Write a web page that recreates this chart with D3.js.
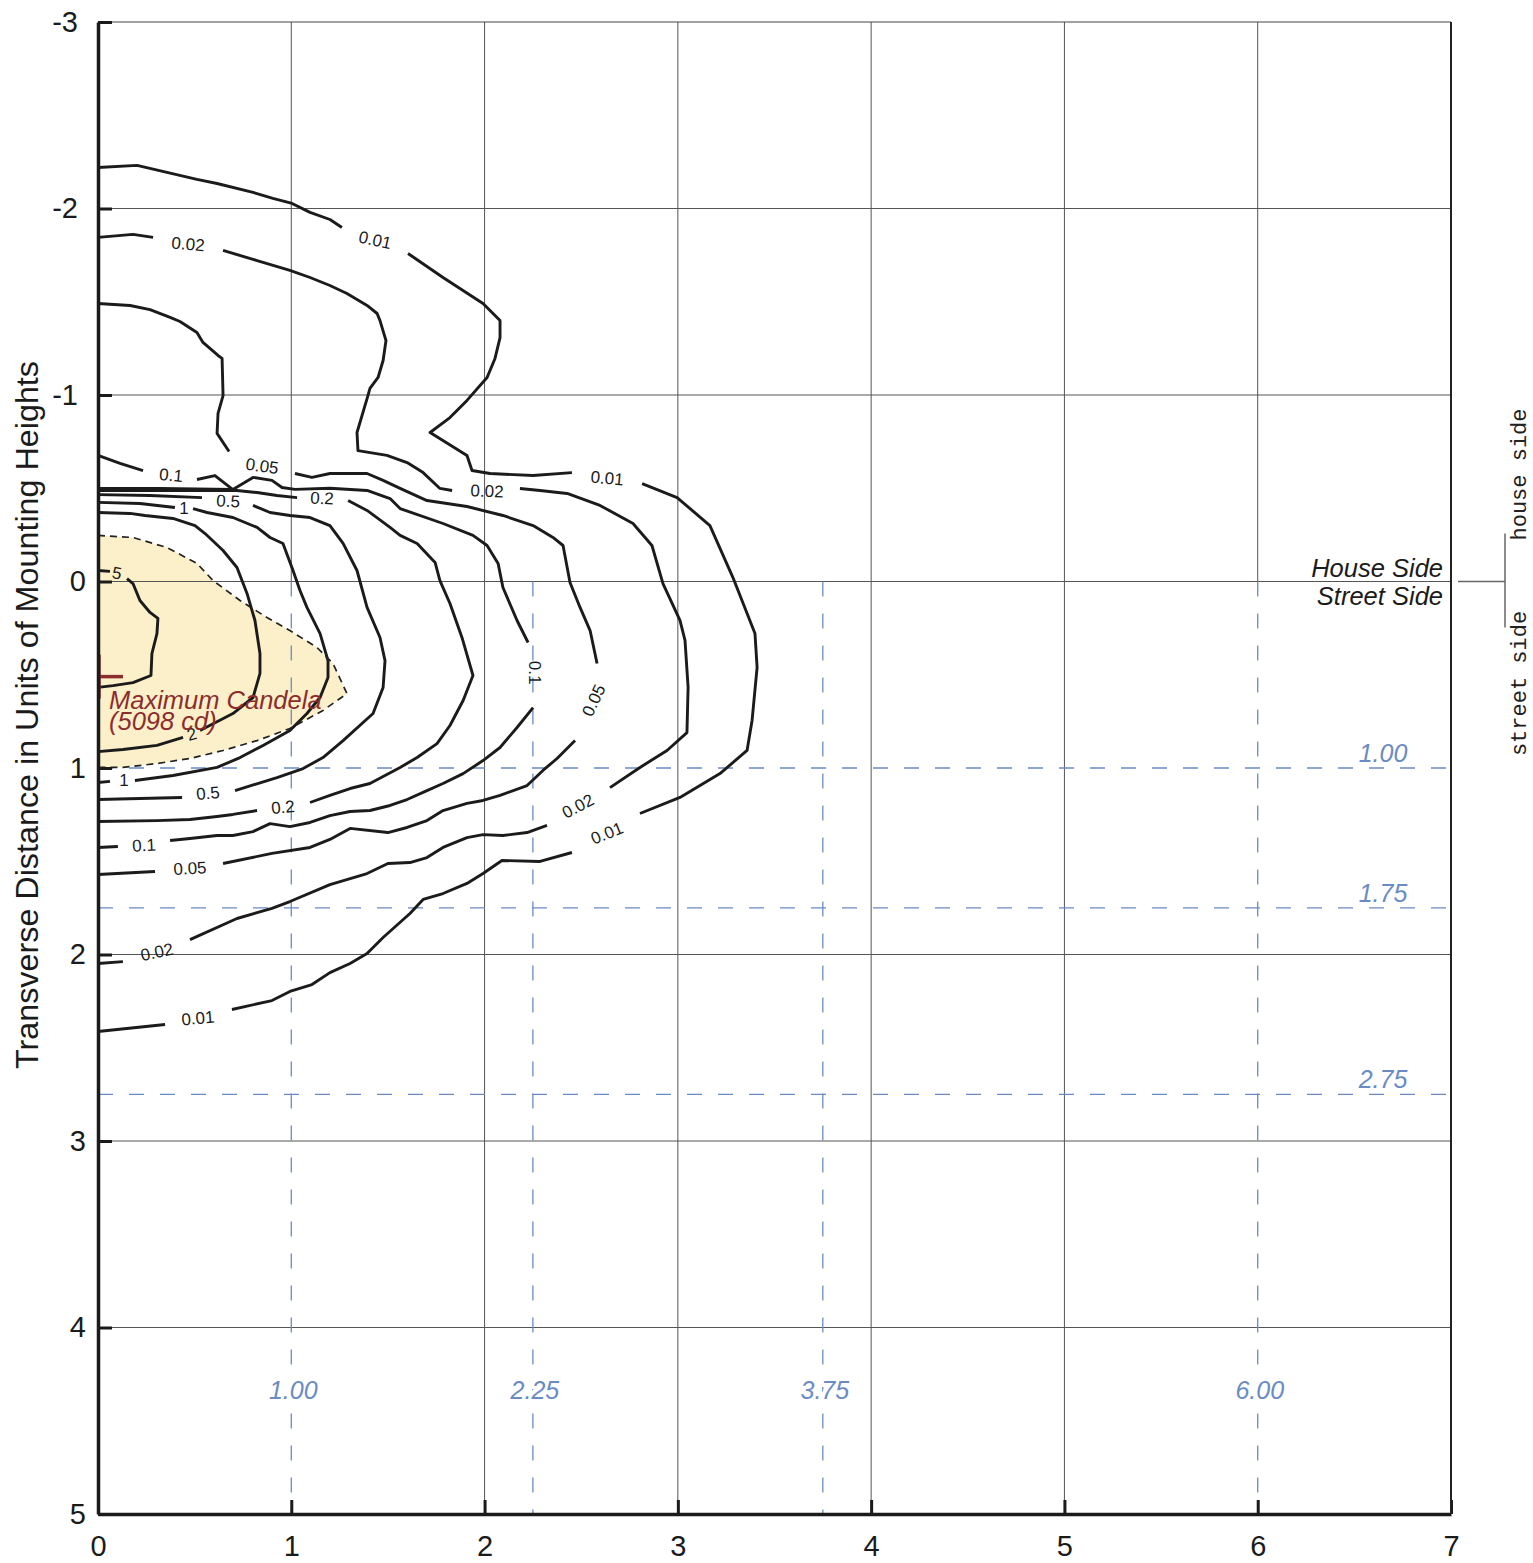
<!DOCTYPE html>
<html><head><meta charset="utf-8">
<script src="https://cdn.jsdelivr.net/npm/d3@7/dist/d3.min.js"></script>
<style>body{margin:0;background:#fff}</style>
</head><body>
<svg id="chart" width="1533" height="1563"></svg>
<script>
// ---------- data ----------
const xTicks = [0,1,2,3,4,5,6,7];
const yTicks = [-3,-2,-1,0,1,2,3,4,5];
const gridX = [1,2,3,4,5,6];
const gridY = [-2,-1,0,1,2,3,4];
const refX = [1.00, 2.25, 3.75, 6.00];   // longitudinal classification lines
const refY = [1.00, 1.75, 2.75];         // transverse classification lines
const yTitle = "Transverse Distance in Units of Mounting Heights";
const maxCandela = {x: 0, y: 0.51, value: 5098};

// isocandela contours (fraction of max), each as list of drawn segments [x, y]
const c001 = [
 [[0,-2.220],[0.202,-2.231],[0.512,-2.156],[0.616,-2.134],[0.802,-2.086],[0.905,-2.054],[1.004,-2.027],[1.097,-1.979],[1.200,-1.941],[1.262,-1.898]],
 [[1.604,-1.759],[1.785,-1.630],[1.992,-1.491],[2.080,-1.399],[2.080,-1.308],[2.054,-1.196],[2.013,-1.094],[1.909,-0.971],[1.821,-0.879],[1.718,-0.799],[1.909,-0.676],[1.935,-0.595],[2.028,-0.579],[2.251,-0.568],[2.452,-0.584]],
 [[2.815,-0.525],[2.996,-0.450],[3.166,-0.300],[3.285,-0.021],[3.399,0.279],[3.410,0.461],[3.384,0.745],[3.358,0.906],[3.218,1.030],[3.011,1.158],[2.804,1.244]],
 [[2.452,1.453],[2.287,1.501],[2.090,1.496],[1.992,1.566],[1.909,1.619],[1.785,1.673],[1.682,1.705],[1.614,1.780],[1.475,1.909],[1.392,1.995],[1.304,2.048],[1.200,2.097],[1.107,2.161],[0.993,2.198],[0.900,2.247],[0.693,2.295]],
 [[0.347,2.375],[0,2.413]]
];
const c002 = [
 [[0,-1.845],[0.181,-1.861],[0.285,-1.845]],
 [[0.647,-1.775],[0.823,-1.721],[0.993,-1.668],[1.097,-1.630],[1.200,-1.587],[1.288,-1.544],[1.392,-1.480],[1.444,-1.437],[1.459,-1.399],[1.490,-1.292],[1.475,-1.185],[1.449,-1.094],[1.407,-1.035],[1.392,-0.981],[1.340,-0.799],[1.345,-0.702],[1.495,-0.676],[1.599,-0.638],[1.682,-0.584],[1.769,-0.499],[1.832,-0.488]],
 [[2.183,-0.499],[2.287,-0.488],[2.427,-0.472],[2.597,-0.408],[2.768,-0.311],[2.866,-0.193],[2.923,0.011],[3.011,0.209],[3.037,0.316],[3.053,0.568],[3.047,0.810],[2.944,0.906],[2.804,0.997],[2.649,1.105]],
 [[2.323,1.308],[2.220,1.346],[2.095,1.362],[1.992,1.357],[1.909,1.373],[1.785,1.426],[1.702,1.480],[1.614,1.507],[1.500,1.512],[1.392,1.566],[1.200,1.625],[0.993,1.716],[0.900,1.753],[0.719,1.807],[0.476,1.920]],
 [[0.129,2.038],[0,2.048]]
];
const c005 = [
 [[0,-1.491],[0.166,-1.480],[0.269,-1.458],[0.373,-1.416],[0.424,-1.394],[0.512,-1.335],[0.543,-1.282],[0.621,-1.212],[0.642,-1.196],[0.647,-0.997],[0.621,-0.901],[0.616,-0.794],[0.678,-0.697]],
 [[1.019,-0.579],[1.107,-0.558],[1.200,-0.579],[1.392,-0.579],[1.475,-0.542],[1.563,-0.499],[1.702,-0.434],[1.909,-0.402],[2.095,-0.354],[2.251,-0.300],[2.354,-0.236],[2.406,-0.193],[2.442,0.005],[2.494,0.139],[2.546,0.263],[2.582,0.440]],
 [[2.468,0.853],[2.375,0.949],[2.302,1.013],[2.220,1.094],[2.080,1.147],[1.992,1.174],[1.909,1.190],[1.785,1.228],[1.702,1.282],[1.599,1.319],[1.500,1.346],[1.304,1.324],[1.200,1.383],[1.097,1.426],[0.900,1.458],[0.647,1.512]],
 [[0.295,1.555],[0,1.571]]
];
const c01 = [
 [[0,-0.676],[0.114,-0.633],[0.233,-0.595]],
 [[0.512,-0.547],[0.605,-0.568],[0.698,-0.493],[0.802,-0.558],[0.900,-0.542],[0.952,-0.504],[1.019,-0.494],[1.200,-0.500],[1.392,-0.488],[1.511,-0.445],[1.563,-0.391],[1.785,-0.311],[1.940,-0.247],[2.013,-0.193],[2.070,-0.097],[2.095,0.032],[2.168,0.209],[2.225,0.327]],
 [[2.251,0.676],[2.168,0.783],[2.080,0.890],[1.992,0.960],[1.889,1.030],[1.785,1.083],[1.702,1.121],[1.599,1.169],[1.511,1.201],[1.407,1.228],[1.304,1.233],[1.200,1.255],[1.097,1.292],[0.993,1.314],[0.890,1.298],[0.802,1.341],[0.698,1.362],[0.616,1.362],[0.476,1.378],[0.373,1.389]],
 [[0.103,1.421],[0,1.426]],
 [[0,-0.499],[0.321,-0.499],[0.698,-0.493]]
];
const c02 = [
 [[0,-0.488],[0.269,-0.488],[0.719,-0.488],[0.823,-0.477],[0.926,-0.461],[1.030,-0.450]],
 [[1.294,-0.434],[1.392,-0.381],[1.511,-0.290],[1.563,-0.247],[1.651,-0.204],[1.744,-0.102],[1.769,-0.005],[1.821,0.118],[1.883,0.300],[1.940,0.504],[1.889,0.638],[1.821,0.772],[1.754,0.869],[1.651,0.944],[1.563,0.997],[1.407,1.083],[1.304,1.110],[1.200,1.147],[1.097,1.185]],
 [[0.823,1.228],[0.698,1.249],[0.616,1.260],[0.476,1.276],[0.305,1.282],[0,1.287]]
];
const c05 = [
 [[0,-0.466],[0.269,-0.461],[0.538,-0.450]],
 [[0.802,-0.408],[0.890,-0.370],[0.993,-0.354],[1.097,-0.343],[1.200,-0.300],[1.268,-0.204],[1.340,-0.059],[1.392,0.139],[1.459,0.300],[1.485,0.424],[1.475,0.568],[1.423,0.708],[1.268,0.853],[1.164,0.944],[1.061,1.003],[0.926,1.051],[0.709,1.121]],
 [[0.435,1.158],[0,1.169]]
];
const c1 = [
 [[0,-0.424],[0.217,-0.418],[0.398,-0.397]],
 [[0.492,-0.391],[0.564,-0.370],[0.698,-0.343],[0.823,-0.290],[0.890,-0.236],[0.957,-0.204],[1.009,-0.059],[1.045,0.048],[1.081,0.139],[1.149,0.279],[1.190,0.424],[1.190,0.515],[1.149,0.622],[1.081,0.708],[0.993,0.799],[0.854,0.879],[0.735,0.944],[0.616,0.997],[0.388,1.040],[0.191,1.067]],
 [[0.062,1.072],[0,1.078]]
];
const c2 = [
 [[0,-0.370],[0.166,-0.365],[0.243,-0.354],[0.388,-0.338],[0.502,-0.300],[0.554,-0.257],[0.647,-0.166],[0.719,-0.075],[0.771,0.064],[0.812,0.209],[0.838,0.386],[0.838,0.493],[0.802,0.622],[0.698,0.708],[0.528,0.799]],
 [[0.440,0.836],[0.305,0.879],[0.129,0.901],[0,0.912]]
];
const c5 = [
 [[0,-0.059],[0.062,-0.054]],
 [[0.150,-0.016],[0.181,0.011],[0.217,0.102],[0.269,0.166],[0.310,0.198],[0.305,0.279],[0.279,0.386],[0.274,0.504],[0.181,0.542],[0.078,0.558],[0,0.568]]
];
// half-max region (dashed, shaded)
const halfMaxRegion = [[0,-0.247],[0.181,-0.236],[0.357,-0.182],[0.512,-0.097],[0.595,-0.005],[0.735,0.102],[0.874,0.193],[0.993,0.263],[1.133,0.354],[1.216,0.440],[1.288,0.601],[1.237,0.638],[1.164,0.692],[0.993,0.788],[0.823,0.853],[0.647,0.906],[0.476,0.949],[0.305,0.976],[0.129,0.997],[0,0.997]];

// contour labels: text, x, y, angle
const contourLabels = [
 ["0.01",1.433,-1.829,12],["0.02",0.466,-1.807,5],["0.05",0.849,-0.617,8],["0.1",0.378,-0.568,5],
 ["1",0.445,-0.391,0],["0.5",0.673,-0.429,3],["0.2",1.159,-0.445,3],["0.02",2.013,-0.483,2],
 ["0.01",2.634,-0.552,5],["5",0.098,-0.043,10],["2",0.486,0.820,-15],["0.1",2.256,0.488,90],
 ["0.05",2.566,0.638,-65],["0.02",2.484,1.206,-28],["0.01",2.634,1.351,-22],["1",0.135,1.067,0],
 ["0.5",0.569,1.137,-5],["0.2",0.957,1.212,-5],["0.1",0.238,1.416,-3],["0.05",0.476,1.539,-3],
 ["0.02",0.305,1.989,-12],["0.01",0.517,2.343,-5]
];

const contours = [c001,c002,c005,c01,c02,c05,c1,c2,c5];

// ---------- drawing ----------
const W = 1533, H = 1563;
const svg = d3.select("#chart");
const x = d3.scaleLinear().domain([0,7]).range([98,1451]);
const y = d3.scaleLinear().domain([-3,5]).range([22,1514]);
const line = d3.line().x(d => x(d[0])).y(d => y(d[1]));
const FONT = "'Liberation Sans', Arial, Helvetica, sans-serif";
const BLUE = "#6a8bc3";
const RED = "#8b2d2d";

svg.append("rect").attr("width", W).attr("height", H).attr("fill", "#fff");

// shaded region
svg.append("path").attr("d", line(halfMaxRegion) + "Z")
  .attr("fill", "#fbf0c9").attr("stroke", "none");

// grid (replaced by the blue classification lines where they coincide)
const grid = svg.append("g").attr("stroke", "#555").attr("stroke-width", 1);
grid.selectAll(".gx").data(gridX).join("line")
  .attr("x1", d => x(d)).attr("x2", d => x(d)).attr("y1", y(-3))
  .attr("y2", d => refX.includes(d) ? y(0) : y(5));
grid.selectAll(".gy").data(gridY.filter(d => !refY.includes(d))).join("line")
  .attr("x1", x(0)).attr("x2", x(7)).attr("y1", d => y(d)).attr("y2", d => y(d));
// top border
svg.append("line").attr("x1", x(0)).attr("x2", x(7)).attr("y1", y(-3)).attr("y2", y(-3))
  .attr("stroke", "#444").attr("stroke-width", 1);

// blue reference dashed lines
const ref = svg.append("g").attr("stroke", BLUE).attr("stroke-width", 1.3).attr("fill", "none");
ref.selectAll(".ry").data(refY).join("line")
  .attr("x1", x(0)).attr("x2", x(7)).attr("y1", d => y(d)).attr("y2", d => y(d))
  .attr("stroke-dasharray", "15,16");
ref.selectAll(".rx").data(refX).join("line")
  .attr("x1", d => x(d)).attr("x2", d => x(d)).attr("y1", y(0)).attr("y2", y(5))
  .attr("stroke-dasharray", "15,17");

// contours
const cg = svg.append("g").attr("fill", "none").attr("stroke", "#1b1b1b")
  .attr("stroke-width", 2.9).attr("stroke-linejoin", "round").attr("stroke-linecap", "butt");
contours.forEach(level => {
  level.forEach(seg => {
    cg.append("path").attr("d", line(seg));
  });
});

// dashed boundary of shaded region (axis edge left open)
svg.append("path").attr("d", line(halfMaxRegion))
  .attr("fill", "none").attr("stroke", "#222").attr("stroke-width", 1.7)
  .attr("stroke-dasharray", "7,5");

// contour labels
svg.append("g").selectAll("text").data(contourLabels).join("text")
  .attr("transform", d => `translate(${x(d[1])},${y(d[2])}) rotate(${d[3]})`)
  .attr("text-anchor", "middle").attr("dominant-baseline", "central")
  .attr("font-family", FONT).attr("font-size", 17).attr("fill", "#1b1b1b")
  .text(d => d[0]);

// blue reference labels
const bl = svg.append("g").attr("font-family", FONT).attr("font-style", "italic")
  .attr("font-size", 25).attr("fill", BLUE);
bl.selectAll(".ly").data(refY).join("text")
  .attr("x", x(6.648)).attr("y", d => y(d) - 6).attr("text-anchor", "middle")
  .text(d => d3.format(".2f")(d));
bl.selectAll(".lx").data(refX).join("text")
  .attr("x", d => x(d) + 2).attr("y", y(4.385)).attr("text-anchor", "middle")
  .attr("stroke", "#fff").attr("stroke-width", 8).attr("paint-order", "stroke")
  .text(d => d3.format(".2f")(d));

// maximum candela marker
const mc = svg.append("g").attr("stroke", RED).attr("stroke-width", 3.5);
mc.append("line").attr("x1", x(maxCandela.x) + 1).attr("x2", x(maxCandela.x) + 1)
  .attr("y1", y(maxCandela.y) - 22).attr("y2", y(maxCandela.y) + 22);
mc.append("line").attr("x1", x(maxCandela.x)).attr("x2", x(maxCandela.x) + 25)
  .attr("y1", y(maxCandela.y)).attr("y2", y(maxCandela.y));
const mt = svg.append("g").attr("font-family", FONT).attr("font-style", "italic")
  .attr("font-size", 25.5).attr("fill", RED);
mt.append("text").attr("x", x(maxCandela.x) + 11).attr("y", y(maxCandela.y) + 32).text("Maximum Candela");
mt.append("text").attr("x", x(maxCandela.x) + 11).attr("y", y(maxCandela.y) + 53).text(`(${maxCandela.value} cd)`);

// axes
const yAxis = d3.axisLeft(y).tickValues(yTicks).tickSize(-14).tickSizeOuter(0).tickPadding(12)
  .tickFormat(d3.format("d"));
const gy = svg.append("g").attr("transform", `translate(${x(0)},0)`).call(yAxis);
gy.select(".domain").attr("stroke", "#1b1b1b").attr("stroke-width", 3.5);
gy.selectAll(".tick line").attr("stroke", "#1b1b1b").attr("stroke-width", 3);
gy.selectAll(".tick text").attr("font-family", FONT).attr("font-size", 29).attr("fill", "#1b1b1b")
  .attr("x", d => d < 0 ? -20 : -12).text(d => d < 0 ? "-" + Math.abs(d) : d);

const xAxis = d3.axisBottom(x).tickValues(xTicks).tickSize(-14).tickSizeOuter(0).tickPadding(21)
  .tickFormat(d3.format("d"));
const gx = svg.append("g").attr("transform", `translate(0,${y(5)})`).call(xAxis);
gx.select(".domain").attr("stroke", "#1b1b1b").attr("stroke-width", 3.5);
gx.selectAll(".tick line").attr("stroke", "#1b1b1b").attr("stroke-width", 3);
gx.selectAll(".tick text").attr("font-family", FONT).attr("font-size", 29).attr("fill", "#1b1b1b");

// right border
svg.append("line").attr("x1", x(7)).attr("x2", x(7)).attr("y1", y(-3)).attr("y2", y(5))
  .attr("stroke", "#222").attr("stroke-width", 2);

// y title
svg.append("text").attr("transform", `translate(38,${(y(-3)+y(5))/2 - 53}) rotate(-90)`)
  .attr("text-anchor", "middle").attr("font-family", FONT).attr("font-size", 31)
  .attr("fill", "#1b1b1b").attr("textLength", 708).attr("lengthAdjust", "spacingAndGlyphs")
  .text(yTitle);

// house / street side annotations
const hs = svg.append("g").attr("font-family", FONT).attr("font-style", "italic")
  .attr("font-size", 25.5).attr("fill", "#1b1b1b").attr("text-anchor", "end");
hs.append("text").attr("x", x(7) - 8).attr("y", y(0) - 5).text("House Side");
hs.append("text").attr("x", x(7) - 8).attr("y", y(0) + 23).text("Street Side");

const br = svg.append("g").attr("stroke", "#666").attr("stroke-width", 1.5);
br.append("line").attr("x1", x(7) + 7).attr("x2", x(7) + 54).attr("y1", y(0)).attr("y2", y(0));
br.append("line").attr("x1", x(7) + 54).attr("x2", x(7) + 54).attr("y1", y(0) - 48).attr("y2", y(0) + 46);
const ms = svg.append("g").attr("font-family", "'Liberation Mono', 'DejaVu Sans Mono', monospace")
  .attr("font-size", 22).attr("fill", "#222").attr("text-anchor", "middle");
ms.append("text").attr("transform", `translate(1526,${y(0) - 107}) rotate(-90)`).text("house side");
ms.append("text").attr("transform", `translate(1526,${y(0) + 102}) rotate(-90)`).text("street side");
</script>
</body></html>
